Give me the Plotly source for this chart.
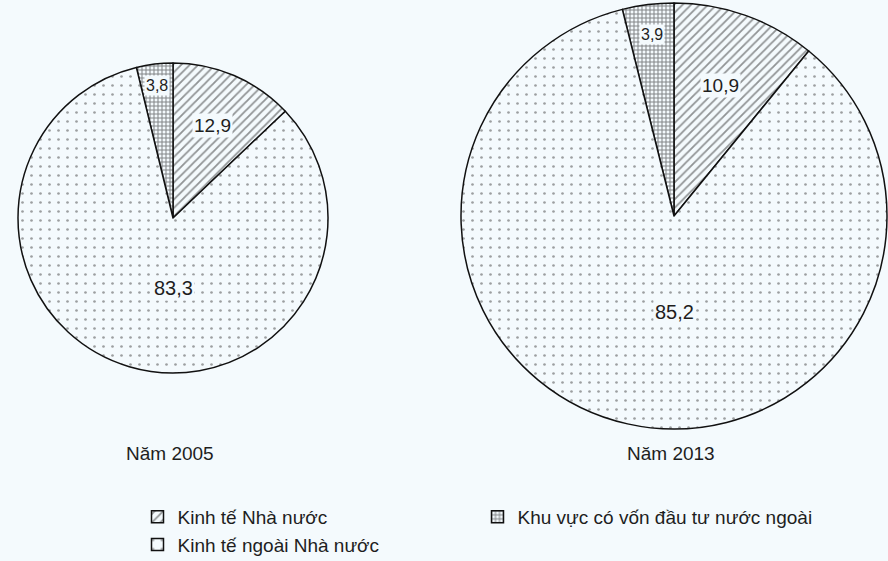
import math
import plotly.graph_objects as go

# ---- data ----
categories = ["Kinh tế Nhà nước", "Khu vực có vốn đầu tư nước ngoài", "Kinh tế ngoài Nhà nước"]
values_2005 = [12.9, 3.8, 83.3]
values_2013 = [10.9, 3.9, 85.2]
years = ["Năm 2005", "Năm 2013"]

# ---- style ----
W, H = 888, 561
BG = "#f4fafd"
INK = "#1e1e1e"
FONT = "Liberation Sans, Arial, sans-serif"
pat_shapes = ["/", "+", "."]
pat_sizes = [6, 4, 9]
pat_solid = [0.3, 0.45, 0.07]
pat_fg = ["#2e2e2e", "#111111", "#444444"]
label_frac = [0.65, 0.86, 0.45]
label_angle = [None, None, 180]   # fixed label direction (deg clockwise from 12) or None = slice middle
label_size = [19, 16, 20]

# pie geometry in pixels: (cx, cy, r)
pies = [(173, 218, 155), (674, 216, 213)]


def px_to_paper(x, y):
    return x / W, 1 - y / H


fig = go.Figure()
annotations = []
for k, (vals, (cx, cy, r), yr) in enumerate(zip([values_2005, values_2013], pies, years)):
    x0, y0 = px_to_paper(cx - r, cy + r)
    x1, y1 = px_to_paper(cx + r, cy - r)
    fig.add_trace(go.Pie(
        labels=categories, values=vals, sort=False, direction="counterclockwise",
        rotation=0, textinfo="none", hoverinfo="label+value",
        domain=dict(x=[x0, x1], y=[y0, y1]),
        showlegend=(k == 0),
        marker=dict(colors=[BG] * 3, line=dict(color="#111111", width=1.5),
                    pattern=dict(shape=pat_shapes, size=pat_sizes, solidity=pat_solid,
                                 fgcolor=pat_fg, fillmode="overlay")),
    ))
    total = sum(vals)
    # angle layout (clockwise-from-12 degrees) for counterclockwise pie
    mids = []
    cum = 0.0
    for i, v in enumerate(vals):
        if i == 0:
            mids.append(v / total * 180)
        else:
            mids.append(-(cum + v / 2) / total * 360)
            cum += v
    for i, v in enumerate(vals):
        ang = mids[i] if label_angle[i] is None else label_angle[i]
        a = math.radians(ang)
        px = cx + label_frac[i] * r * math.sin(a)
        py = cy - label_frac[i] * r * math.cos(a)
        ax, ay = px_to_paper(px, py)
        annotations.append(dict(
            x=ax, y=ay, xref="paper", yref="paper", showarrow=False,
            xanchor="center", yanchor="middle",
            text=f"{v:.1f}".replace(".", ","),
            font=dict(family=FONT, size=label_size[i], color=INK),
            bgcolor=BG, borderpad=1,
        ))
    tx, ty = px_to_paper(cx - 3, 453)
    annotations.append(dict(x=tx, y=ty, xref="paper", yref="paper", showarrow=False,
                            xanchor="center", yanchor="middle",
                            text=yr, font=dict(family=FONT, size=19, color=INK)))

fig.update_layout(
    width=W, height=H, margin=dict(l=0, r=0, t=0, b=0, autoexpand=False),
    paper_bgcolor=BG, plot_bgcolor=BG,
    annotations=annotations,
    legend=dict(orientation="h", x=137.5 / W, xanchor="left", y=1 - 498 / H, yanchor="top",
                entrywidth=295, entrywidthmode="pixels",
                font=dict(family=FONT, size=19, color=INK), bgcolor="rgba(0,0,0,0)"),
)

fig.write_html(
    "out.html",
    config={"displayModeBar": False},
    post_script="document.body.style.margin='0';document.body.style.background='%s';" % BG,
)
